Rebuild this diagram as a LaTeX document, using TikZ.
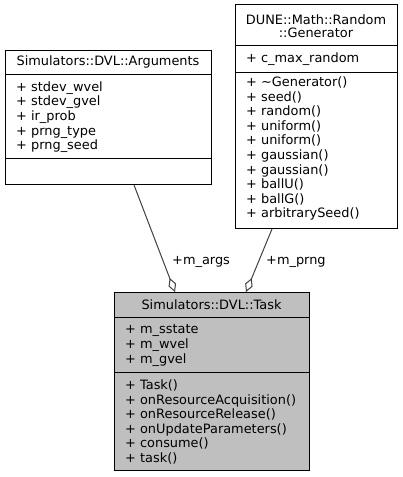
\documentclass[tikz,border=0pt]{standalone}
\usepackage{fontspec}
\setmainfont{DejaVu Sans}
\usepackage{xcolor}
\usepackage{tikz}
\usetikzlibrary{arrows.meta}
\definecolor{GrisClase}{RGB}{191,191,191}
\definecolor{GrisEnlace}{RGB}{64,64,64}

\begin{document}
\begin{tikzpicture}[x=1pt,y=-1pt,
  clase/.style={draw=black,line width=1pt,anchor=north west,inner sep=0pt},
  raya/.style={black,line width=1pt},
  miembro/.style={anchor=base west,inner sep=0pt,font=\fontsize{12.9}{14.6}\selectfont},
  titulo/.style={align=center,inner sep=0pt,font=\fontsize{12.9}{13.2}\selectfont},
  agreg/.style={GrisEnlace,line width=1pt,-{Diamond[open,length=15pt,width=8pt]}}]
  \useasboundingbox (0,0) rectangle (403,477);

  \node[clase,minimum width=206pt,minimum height=134pt] (args) at (5,50) {};
  \draw[raya] ([yshift=-24pt]args.north west) -- ([yshift=-24pt]args.north east);
  \draw[raya] ([yshift=-108pt]args.north west) -- ([yshift=-108pt]args.north east);
  \node[titulo] (argsT) at (108,62) {Simulators::DVL::Arguments};
  \foreach \m [count=\i from 0] in {stdev\_wvel,stdev\_gvel,ir\_prob,prng\_type,prng\_seed}
    \node[miembro] (argsA\i) at (16,91.2+14.6*\i) {+ \m};

  \node[clase,minimum width=162pt,minimum height=224pt] (gen) at (235,4) {};
  \draw[raya] ([yshift=-41pt]gen.north west) -- ([yshift=-41pt]gen.north east);
  \draw[raya] ([yshift=-68pt]gen.north west) -- ([yshift=-68pt]gen.north east);
  \node[titulo] (genT) at (316,26.5) {DUNE::Math::Random\\::Generator};
  \node[miembro] (genA0) at (246,62.5) {+ c\_max\_random};
  \foreach \m [count=\i from 0] in {\textasciitilde Generator(),seed(),random(),uniform(),uniform(),
      gaussian(),gaussian(),ballU(),ballG(),arbitrarySeed()}
    \node[miembro] (genM\i) at (246,86.5+14.6*\i) {+ \m};

  \node[clase,fill=GrisClase,minimum width=195pt,minimum height=178pt] (task) at (114,292) {};
  \draw[raya] ([yshift=-25pt]task.north west) -- ([yshift=-25pt]task.north east);
  \draw[raya] ([yshift=-80pt]task.north west) -- ([yshift=-80pt]task.north east);
  \node[titulo] (taskT) at (211.5,305) {Simulators::DVL::Task};
  \foreach \m [count=\i from 0] in {m\_sstate,m\_wvel,m\_gvel}
    \node[miembro] (taskA\i) at (125,333.8+14.6*\i) {+ \m};
  \foreach \m [count=\i from 0] in {Task(),onResourceAcquisition(),onResourceRelease(),
      onUpdateParameters(),consume(),task()}
    \node[miembro] (taskM\i) at (125,389.5+14.6*\i) {+ \m};

  \draw[agreg] ([xshift=129pt]args.south west) -- ([xshift=61pt]task.north west);
  \draw[agreg] ([xshift=37pt]gen.south west) -- ([xshift=132pt]task.north west);
  \node[miembro] (lblArgs) at (172,264.5) {+m\_args};
  \node[miembro] (lblPrng) at (266,264.5) {+m\_prng};
\end{tikzpicture}
\end{document}
